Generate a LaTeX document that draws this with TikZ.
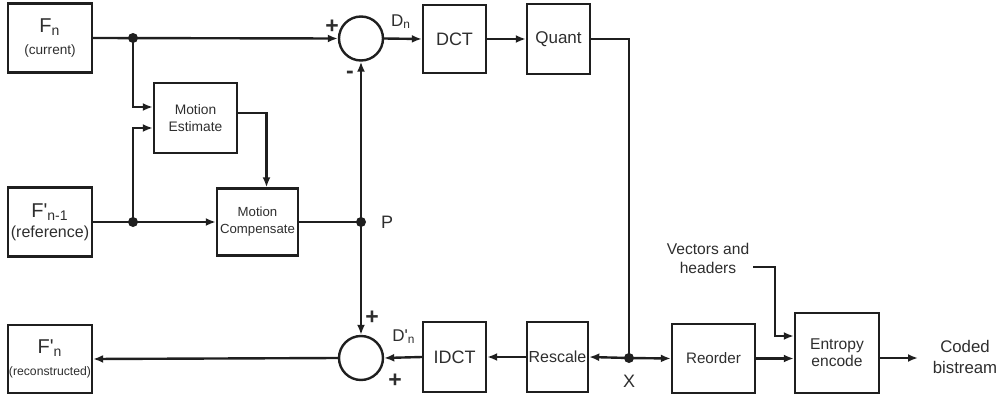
\documentclass[tikz,border=0pt]{standalone}
\usepackage{fontspec}
\setmainfont{Liberation Sans}
\usetikzlibrary{arrows.meta}

\begin{document}
\begin{tikzpicture}[x=0.5pt, y=-0.5pt, >={Latex[length=5pt,width=4pt]}, line width=1.2pt,
    color=black!88, text=black!82,
    blk/.style={draw, inner sep=0pt, align=center},
    sumnode/.style={draw, circle, minimum size=22pt, inner sep=0pt},
    dot/.style={circle, fill, inner sep=0pt, minimum size=5pt},
    lbl/.style={inner sep=0pt, font=\fontsize{9pt}{10pt}\selectfont},
    sign/.style={inner sep=0pt, font=\fontsize{11.5pt}{11.5pt}\selectfont\bfseries},
    thinline/.style={line width=0.7pt}]

    \useasboundingbox (0,0) rectangle (1003,396);

    % === 方框 ===
    \node[blk, minimum width=42pt, minimum height=34.5pt] (fn) at (50,38)
        {{\fontsize{10pt}{10pt}\selectfont F}\textsubscript{n}\\[-1pt]{\fontsize{6.8pt}{7pt}\selectfont (current)}};
    \node[blk, minimum width=42pt, minimum height=34.5pt] (fref) at (50,222)
        {{\fontsize{10pt}{10pt}\selectfont F\textquotesingle}\textsubscript{n-1}\\[-2pt]{\fontsize{8pt}{8pt}\selectfont (reference)}};
    \node[blk, minimum width=42pt, minimum height=34pt] (frec) at (50,359)
        {{\fontsize{10pt}{10pt}\selectfont F\textquotesingle}\textsubscript{n}\\[-1pt]{\fontsize{6.1pt}{6.5pt}\selectfont (reconstructed)}};
    \node[blk, minimum width=41.5pt, minimum height=35pt, font=\fontsize{6.9pt}{8.5pt}\selectfont] (me) at (195.5,118) {Motion\\Estimate};
    \node[blk, minimum width=40.5pt, minimum height=33.5pt, font=\fontsize{6.6pt}{8.5pt}\selectfont] (mc) at (257.5,222) {Motion\\Compensate};
    \node[blk, minimum width=31.5pt, minimum height=34pt, font=\fontsize{9pt}{10pt}\selectfont] (dct) at (454.5,39) {DCT};
    \node[blk, minimum width=31.5pt, minimum height=35pt, font=\fontsize{8.5pt}{10pt}\selectfont] (quant) at (558.5,39) {Quant};
    \node[blk, minimum width=31.5pt, minimum height=35pt, font=\fontsize{9pt}{10pt}\selectfont] (idct) at (454.5,357) {IDCT};
    \node[blk, minimum width=30.5pt, minimum height=35pt, font=\fontsize{8pt}{10pt}\selectfont] (rescale) at (557.5,357) {Rescale};
    \node[blk, minimum width=41.5pt, minimum height=34.5pt, font=\fontsize{7.6pt}{10pt}\selectfont] (reorder) at (713.5,358.5) {Reorder};
    \node[blk, minimum width=42pt, minimum height=40pt, font=\fontsize{7.8pt}{8.5pt}\selectfont] (entropy) at (837,353) {Entropy\\encode};

    % === 加法器 ===
    \node[sumnode] (sum1) at (361,38.5) {};
    \node[sumnode] (sum2) at (361,358) {};

    % === 分支点 ===
    \coordinate (j1) at (133,38);
    \coordinate (j2) at (133,222);
    \coordinate (P) at (361,222);
    \coordinate (X) at (629,358);
    \coordinate (vh) at (753,267);
    \coordinate (out) at (918,358);

    % === 前向通路 ===
    \draw[->] (fn.east) -- (sum1.west);
    \draw[->] (j1) |- ([yshift=5.5pt]me.west);
    \draw[->] (j2) |- ([yshift=-5pt]me.west);
    \draw[->] (fref.east) -- (mc.west);
    \draw[->] ([yshift=2.5pt]me.east) -| ([xshift=4.5pt]mc.north);
    \draw (mc.east) -- (P);
    \draw[->] (P) -- (sum1.south);
    \draw[->] (sum1.east) -- (dct.west);
    \draw[->] (dct.east) -- (quant.west);
    \draw[thinline] (quant.east) -| (X);

    % === 重建通路 ===
    \draw[->] (P) -- (sum2.north);
    \draw[->] (X) -- (rescale.east);
    \draw[->] (rescale.west) -- (idct.east);
    \draw[->] (idct.west) -- (sum2.east);
    \draw[->] (sum2.west) -- (frec.east);

    % === 熵编码 ===
    \draw[->] (X) -- (reorder.west);
    \draw[->] (reorder.east) -- (reorder.east -| entropy.west);
    \draw[->] (vh) -- ++(22,0) |- ([yshift=8.5pt]entropy.west);
    \draw[->] (entropy.east |- out) -- (out);

    % === 圆点 ===
    \foreach \p in {j1, j2, P, X}
        \node[dot] at (\p) {};

    % === 标注 ===
    \node[sign] (plus1) at (332,27) {+};
    \node[sign] (minus1) at (350,75) {-};
    \node[sign] (plus2) at (372,318) {+};
    \node[sign] (plus3) at (395,381) {+};
    \node[lbl, font=\fontsize{8.5pt}{10pt}\selectfont] (dn) at (401,22) {D\textsubscript{n}};
    \node[lbl, font=\fontsize{8.5pt}{10pt}\selectfont] (dpn) at (404,337) {D\textquotesingle\textsubscript{n}};
    \node[lbl, anchor=west] (plbl) at (380,222) {P};
    \node[lbl] (xlbl) at (629,381) {X};
    \node[lbl, align=center, font=\fontsize{7.8pt}{9.5pt}\selectfont] (vectors) at (708,258) {Vectors and\\headers};
    \node[lbl, align=center, font=\fontsize{8.4pt}{10.5pt}\selectfont] (coded) at (965,357) {Coded\\bistream};

\end{tikzpicture}
\end{document}
